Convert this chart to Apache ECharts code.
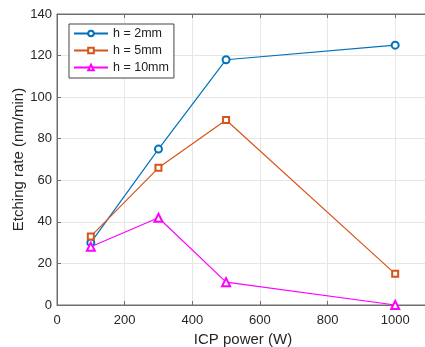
<!DOCTYPE html>
<html><head><meta charset="utf-8">
<script src="https://cdn.jsdelivr.net/npm/echarts@6/dist/echarts.min.js"></script>
<style>html,body{margin:0;padding:0;background:#fff}#c{width:425px;height:347px}</style>
</head><body><div id="c"></div>
<script>
const power = [100, 300, 500, 1000];
const h2 = [30, 75, 118, 125];
const h5 = [33, 66, 89, 15];
const h10 = [28, 42, 11, 0];
const seriesNames = ['h = 2mm', 'h = 5mm', 'h = 10mm'];
const xTitle = 'ICP power (W)';
const yTitle = 'Etching rate (nm/min)';

const font = 'Liberation Sans, Arial, sans-serif';
const axisCol = '#6e6e6e';
function pts(v){ return power.map((x,i)=>[x, v[i]]); }
const chart = echarts.init(document.getElementById('c'), null, {renderer:'canvas'});
const mk = (name, data, color, symbol, size) => ({
  name, type:'line', data: pts(data), symbol, symbolSize: size,
  lineStyle:{color, width:1.2}, itemStyle:{color, borderWidth:1},
  showAllSymbol:true, animation:false
});
chart.setOption({
  animation:false,
  textStyle:{fontFamily:font},
  grid:{left:57, top:14, width:372, height:291, show:true, borderColor:axisCol, borderWidth:1,
        containLabel:false, outerBoundsMode:'none'},
  legend:{
    orient:'vertical', left:69, top:24, padding:[2,5,3,4], itemGap:2,
    itemWidth:34, itemHeight:7, borderColor:'#444', borderWidth:1, backgroundColor:'#fff',
    textStyle:{fontSize:12.5, lineHeight:15, color:'#222', fontFamily:font},
    data: seriesNames
  },
  xAxis:[{
    type:'value', min:0, max:1100, interval:200, position:'bottom',
    name:xTitle, nameLocation:'middle', nameGap:26,
    nameTextStyle:{fontSize:15, color:'#262626'},
    axisLine:{show:true, lineStyle:{color:axisCol}},
    axisTick:{show:true, inside:true, length:4, lineStyle:{color:axisCol}},
    axisLabel:{fontSize:13, color:'#262626', showMaxLabel:false, margin:9, formatter:v=>String(v)},
    splitLine:{show:true, lineStyle:{color:'#e6e6e6'}}
  },{
    type:'value', min:0, max:1100, interval:200, position:'top',
    axisLine:{show:true, lineStyle:{color:axisCol}},
    axisTick:{show:true, inside:true, length:4, lineStyle:{color:axisCol}},
    axisLabel:{show:false}, splitLine:{show:false}
  }],
  yAxis:{
    type:'value', min:0, max:140, interval:20,
    name:yTitle, nameLocation:'middle', nameGap:31, nameRotate:90, nameMoveOverlap:false,
    nameTextStyle:{fontSize:15, color:'#262626'},
    axisLine:{show:true, lineStyle:{color:axisCol}},
    axisTick:{show:true, inside:true, length:4, lineStyle:{color:axisCol}},
    axisLabel:{fontSize:13, color:'#262626', margin:5},
    splitLine:{show:true, lineStyle:{color:'#e6e6e6'}}
  },
  series:[
    mk(seriesNames[0], h2, '#0072BD', 'emptyCircle', 7),
    mk(seriesNames[1], h5, '#D95319', 'emptyRect', 6),
    mk(seriesNames[2], h10, '#FF00FF', 'emptyTriangle', 8)
  ]
});
</script></body></html>
